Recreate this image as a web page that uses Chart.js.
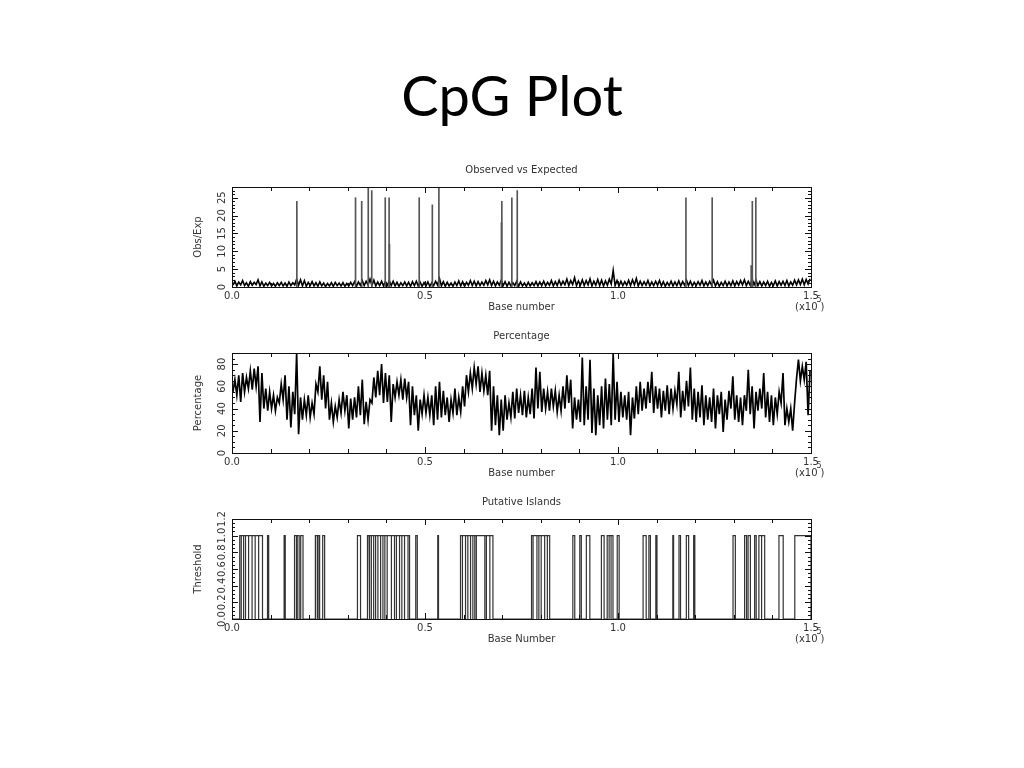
<!DOCTYPE html>
<html>
<head>
<meta charset="utf-8">
<title>CpG Plot</title>
<script src="https://cdn.jsdelivr.net/npm/chart.js@4.4.1/dist/chart.umd.min.js"></script>
<style>
    body { margin: 0; background: #fff; width: 1024px; height: 768px; position: relative; overflow: hidden; }
    #mainTitle { position: absolute; left: 0; width: 1024px; top: 67px; text-align: center; font-family: Lato, sans-serif; font-size: 56px; line-height: 56px; color: #000; }
    canvas { position: absolute; left: 180px; }
</style>
</head>
<body>
<div id="mainTitle">CpG Plot</div>
<canvas id="obsChart" width="660" height="160" style="top:160px"></canvas>
<canvas id="pctChart" width="660" height="160" style="top:326px"></canvas>
<canvas id="islandChart" width="660" height="160" style="top:492px"></canvas>
<script>
// Data (x in thousands of bases, one bin per 1000 bases)
const xTickValues = [0, 50000, 100000, 150000];

// Observed vs Expected: low / high of each 1 kb bin
const obsLo = [
    0.5,0.3,0.6,0.4,0.2,0.5,0.7,0.3,0.2,0.4,
    0.3,0.2,0.4,0.3,0.2,0.4,0.6,0.5,0.3,0.2,
    0.4,0.3,0.2,0.3,0.1,0.3,0.2,0.4,0.3,0.2,
    0.3,0.4,0.2,0.5,0.4,0.6,0.5,0.3,0.4,0.3,
    0.5,0.4,0.3,0.2,0.4,0.3,0.2,0.4,0.3,0.2,
    0.3,0.2,0.4,0.6,0.3,0.2,0.3,0.2,0.4,0.3,
    0.2,0.5,0.4,0.3,0.4,0.5,0.6,0.4,0.3,0.5,
    0.4,0.2,0.3,0.4,0.2,0.3,0.2,0.3,0.4,0.3,
    0.4,0.3,0.5,0.3,0.4,0.5,0.6,0.4,0.7,0.4,
    0.5,0.4,0.6,0.3,0.5,0.4,0.3,0.5,0.8,0.4,
    0.3,0.4,0.5,0.4,0.6,0.3,0.4,0.5,0.3,0.4,
    0.5,0.3,0.2,0.4,0.3,0.4,0.3,0.5,0.4,0.3,
    0.4,0.5,0.3,0.4,0.5,0.3,0.2,0.4,0.3,0.4,
    0.3,0.5,0.6,0.4,0.5,0.6,0.4,0.3,0.4,0.2,
    0.4,0.3,0.5,0.4,0.3,0.5,0.6,0.7,0.6,0.8
];
const obsHi = [
    1.6,1.4,1.8,1.2,1.5,1.3,2.0,1.4,1.1,1.3,
    1.0,1.2,1.3,1.1,1.4,1.2,2.2,2.0,1.8,1.3,
    1.5,1.2,1.4,1.1,1.0,1.2,1.3,1.1,1.2,1.0,
    1.3,1.5,1.4,1.8,1.6,2.2,1.9,1.4,1.6,1.5,
    1.8,1.6,1.3,1.2,1.4,1.3,1.5,1.6,1.3,1.2,
    1.4,1.2,1.6,2.4,1.5,1.3,1.1,1.4,1.7,1.5,
    1.3,1.8,1.6,1.5,1.4,1.8,2.0,1.6,1.4,1.9,
    1.5,1.3,1.2,1.6,1.4,1.1,1.3,1.2,1.5,1.4,
    1.6,1.3,1.8,1.5,1.9,1.6,2.2,1.8,2.6,1.7,
    2.0,1.8,2.3,1.6,2.1,1.9,1.7,2.2,4.6,1.8,
    1.6,1.5,1.9,2.0,2.4,1.6,1.5,1.8,1.4,1.6,
    1.8,1.5,1.3,1.6,1.4,1.7,1.5,1.9,1.6,1.3,
    1.5,1.8,1.4,1.6,1.9,1.5,1.3,1.6,1.4,1.7,
    1.5,1.8,2.0,1.6,2.2,1.9,1.5,1.4,1.6,1.3,
    1.7,1.5,1.6,1.8,1.4,1.9,2.0,2.2,2.1,2.3
];
// Obs/Exp spikes
const spikePos = [16.8, 32.0, 33.6, 35.3, 36.2, 39.7, 40.7, 40.8, 48.5, 51.9, 53.6, 69.8, 69.9, 72.5, 73.9, 117.6, 124.4, 134.5, 134.8, 135.7];
const spikeHeight = [24, 25, 24, 30, 27, 25, 25, 12, 25, 23, 30, 18, 24, 25, 27, 25, 25, 6, 24, 25];

// Percentage: low / high of each 1 kb bin
const pctLo = [
    55,52,46,55,58,57,60,28,40,38,
    40,38,45,48,30,23,35,17,30,34,
    32,35,55,48,40,30,28,32,36,38,
    22,30,32,34,26,30,45,50,52,45,
    46,28,50,52,48,50,25,34,20,35,
    36,34,25,30,32,34,28,36,34,37,
    42,55,58,62,55,56,52,20,25,16,
    20,30,32,31,36,34,32,35,31,40,
    37,40,38,42,37,38,40,45,22,30,
    28,25,30,18,16,25,22,30,25,30,
    28,32,30,16,31,35,38,40,45,36,
    40,32,38,35,40,44,32,38,42,30,
    28,32,25,30,28,22,35,19,30,40,
    30,28,25,38,35,22,38,40,32,28,
    25,35,45,25,28,20,67,65,66,34
];
const pctHi = [
    66,70,72,68,74,76,78,72,58,55,
    52,50,62,70,60,55,90,50,48,52,
    45,62,78,70,64,45,42,48,55,52,
    49,50,60,66,46,48,68,74,80,72,
    70,62,64,66,67,64,60,52,48,52,
    50,52,60,64,56,50,48,58,50,60,
    70,72,77,78,72,70,74,60,52,48,
    52,45,55,58,52,56,50,58,77,73,
    58,55,58,56,52,60,70,66,50,48,
    86,60,84,58,52,60,67,62,89,64,
    55,52,55,50,60,64,58,64,73,60,
    58,56,61,58,56,73,56,65,77,58,
    55,61,52,50,58,52,55,48,56,69,
    52,50,52,75,60,55,58,72,55,52,
    50,55,72,40,40,45,84,78,82,74
];

// Putative islands (kb)
const islandStart = [
    2.0, 2.4, 3.0, 3.5, 4.3, 5.2, 6.0, 6.9, 9.2, 13.5,
    16.2, 16.9, 17.8, 21.6, 22.3, 23.5, 32.5,
    35.1, 35.7, 36.1, 36.7, 37.2, 37.8, 38.5, 39.1, 39.6, 40.2, 41.3, 42.1, 42.6, 43.4, 44.0, 44.7, 45.6,
    47.6, 53.3,
    59.2, 59.7, 60.5, 61.1, 61.8, 62.4, 62.9, 63.3, 65.5, 65.9, 66.8,
    77.6, 78.0, 79.0, 79.5, 80.1, 81.0, 81.7,
    88.3, 90.1, 91.8, 95.7, 97.2, 97.7, 98.2, 99.8,
    106.5, 108.0, 109.8, 114.2, 115.8, 117.7, 119.6,
    129.8, 132.8, 133.7, 135.4, 136.5, 137.2, 141.7, 145.8
];
const islandEnd = [
    2.4, 3.0, 3.5, 4.3, 5.2, 6.0, 6.9, 7.9, 9.5, 13.8,
    16.7, 17.4, 18.4, 22.1, 22.7, 24.0, 33.3,
    35.5, 36.1, 36.7, 37.2, 37.8, 38.5, 39.1, 39.6, 40.2, 41.3, 42.1, 42.6, 43.4, 44.0, 44.7, 45.6, 46.0,
    48.0, 53.5,
    59.7, 60.5, 61.1, 61.8, 62.4, 62.9, 63.3, 65.5, 65.9, 66.8, 67.6,
    78.0, 79.0, 79.5, 80.1, 81.0, 81.7, 82.3,
    88.8, 90.5, 92.7, 96.4, 97.7, 98.2, 98.7, 100.3,
    107.3, 108.4, 110.1, 114.4, 116.2, 118.3, 119.9,
    130.4, 133.3, 134.3, 135.8, 137.2, 138.0, 142.8, 150.0
];

// Build point lists
function binPoints(lo, hi) {
    const pts = [];
    lo.forEach((v, i) => {
        pts.push({ x: i * 1000 + 250, y: v });
        pts.push({ x: i * 1000 + 750, y: hi[i] });
    });
    return pts;
}

function islandPoints() {
    const pts = [{ x: 0, y: 0 }];
    islandStart.forEach((s, i) => {
        pts.push({ x: s * 1000, y: 0 }, { x: s * 1000, y: 1 });
        pts.push({ x: islandEnd[i] * 1000, y: 1 }, { x: islandEnd[i] * 1000, y: 0 });
    });
    pts.push({ x: 150000, y: 0 });
    return pts;
}

const labelFont = '10px "DejaVu Sans"';
const textColor = '#333';

// Box, inner ticks and texts in the IDL style
const framePlugin = {
    id: 'frame',
    afterDraw(chart, args, opts) {
        const ctx = chart.ctx;
        const a = chart.chartArea;
        const xs = chart.scales.x, ys = chart.scales.y;
        ctx.save();
        ctx.strokeStyle = '#111';
        ctx.lineWidth = 1;
        ctx.strokeRect(Math.round(a.left) + 0.5, Math.round(a.top) + 0.5, Math.round(a.right - a.left), Math.round(a.bottom - a.top));

        ctx.beginPath();
        for (let v = 0; v <= 150000; v += 10000) {
            const px = Math.round(xs.getPixelForValue(v)) + 0.5;
            const len = v % 50000 === 0 ? 6 : 4;
            ctx.moveTo(px, a.bottom); ctx.lineTo(px, a.bottom - len);
            ctx.moveTo(px, a.top); ctx.lineTo(px, a.top + len);
        }
        const n = Math.round(opts.yMax / opts.yMinor);
        for (let i = 0; i <= n; i++) {
            const py = Math.round(ys.getPixelForValue(i * opts.yMinor)) + 0.5;
            const len = i % opts.perMajor === 0 ? 6 : 3;
            ctx.moveTo(a.left, py); ctx.lineTo(a.left + len, py);
            ctx.moveTo(a.right, py); ctx.lineTo(a.right - len, py);
        }
        ctx.stroke();

        ctx.fillStyle = textColor;
        ctx.font = labelFont;
        ctx.textBaseline = 'middle';
        ctx.textAlign = 'center';
        const cx = (a.left + a.right) / 2;
        ctx.fillText(opts.title, cx, a.top - 16.5);
        ctx.fillText(opts.xTitle, cx, a.bottom + 20);

        // y tick labels, rotated
        for (let i = 0; i <= n; i += opts.perMajor) {
            const v = i * opts.yMinor;
            const py = ys.getPixelForValue(v);
            ctx.save();
            ctx.translate(a.left - 9.5, py);
            ctx.rotate(-Math.PI / 2);
            ctx.fillText(v.toFixed(opts.digits), 0, 0);
            ctx.restore();
        }
        ctx.save();
        ctx.translate(a.left - 34, (a.top + a.bottom) / 2);
        ctx.rotate(-Math.PI / 2);
        ctx.fillText(opts.yTitle, 0, 0);
        ctx.restore();

        // (x10^5)
        ctx.textAlign = 'left';
        const ex = a.right - 16;
        ctx.fillText('(x10', ex, a.bottom + 20);
        const w = ctx.measureText('(x10').width;
        ctx.font = '8px "DejaVu Sans"';
        ctx.fillText('5', ex + w - 1, a.bottom + 13);
        ctx.font = labelFont;
        ctx.fillText(')', ex + w + 3, a.bottom + 20);
        ctx.restore();
    }
};

function makeChart(id, datasets, yMax, frame) {
    return new Chart(document.getElementById(id), {
        type: 'line',
        data: { datasets: datasets },
        options: {
            responsive: false,
            animation: false,
            devicePixelRatio: 1,
            layout: { padding: { top: 27, right: 29, left: 0, bottom: 0 } },
            elements: { point: { radius: 0 }, line: { tension: 0 } },
            plugins: {
                legend: { display: false },
                tooltip: { enabled: false },
                title: { display: false },
                frame: Object.assign({ yMax: yMax }, frame)
            },
            scales: {
                x: {
                    type: 'linear', min: 0, max: 150000, offset: false,
                    grid: { display: false, drawTicks: false },
                    border: { display: false },
                    afterBuildTicks: s => { s.ticks = xTickValues.map(v => ({ value: v })); },
                    ticks: {
                        autoSkip: false, maxRotation: 0, padding: 3, color: textColor,
                        font: { family: 'DejaVu Sans', size: 10 },
                        callback: v => (v / 100000).toFixed(1)
                    },
                    afterFit: s => { s.height = 33; }
                },
                y: {
                    min: 0, max: yMax,
                    grid: { display: false, drawTicks: false },
                    border: { display: false },
                    ticks: { display: false },
                    afterFit: s => { s.width = 52; }
                }
            }
        },
        plugins: [framePlugin]
    });
}

document.addEventListener('DOMContentLoaded', function() {
    // Observed vs Expected
    makeChart('obsChart', [
        {
            type: 'bar',
            data: spikePos.map((p, i) => ({ x: p * 1000, y: spikeHeight[i] })),
            backgroundColor: '#555',
            barThickness: 1,
            grouped: false
        },
        {
            data: binPoints(obsLo, obsHi),
            borderColor: '#000',
            borderWidth: 1.6
        }
    ], 28, { title: 'Observed vs Expected', xTitle: 'Base number', yTitle: 'Obs/Exp', yMinor: 1, perMajor: 5, digits: 0 });

    // Percentage
    makeChart('pctChart', [
        {
            data: binPoints(pctLo, pctHi),
            borderColor: '#000',
            borderWidth: 1.7
        }
    ], 90, { title: 'Percentage', xTitle: 'Base number', yTitle: 'Percentage', yMinor: 5, perMajor: 4, digits: 0 });

    // Putative islands
    makeChart('islandChart', [
        {
            data: islandPoints(),
            borderColor: '#333',
            borderWidth: 1.2
        }
    ], 1.2, { title: 'Putative Islands', xTitle: 'Base Number', yTitle: 'Threshold', yMinor: 0.05, perMajor: 4, digits: 1 });
});
</script>
</body>
</html>
